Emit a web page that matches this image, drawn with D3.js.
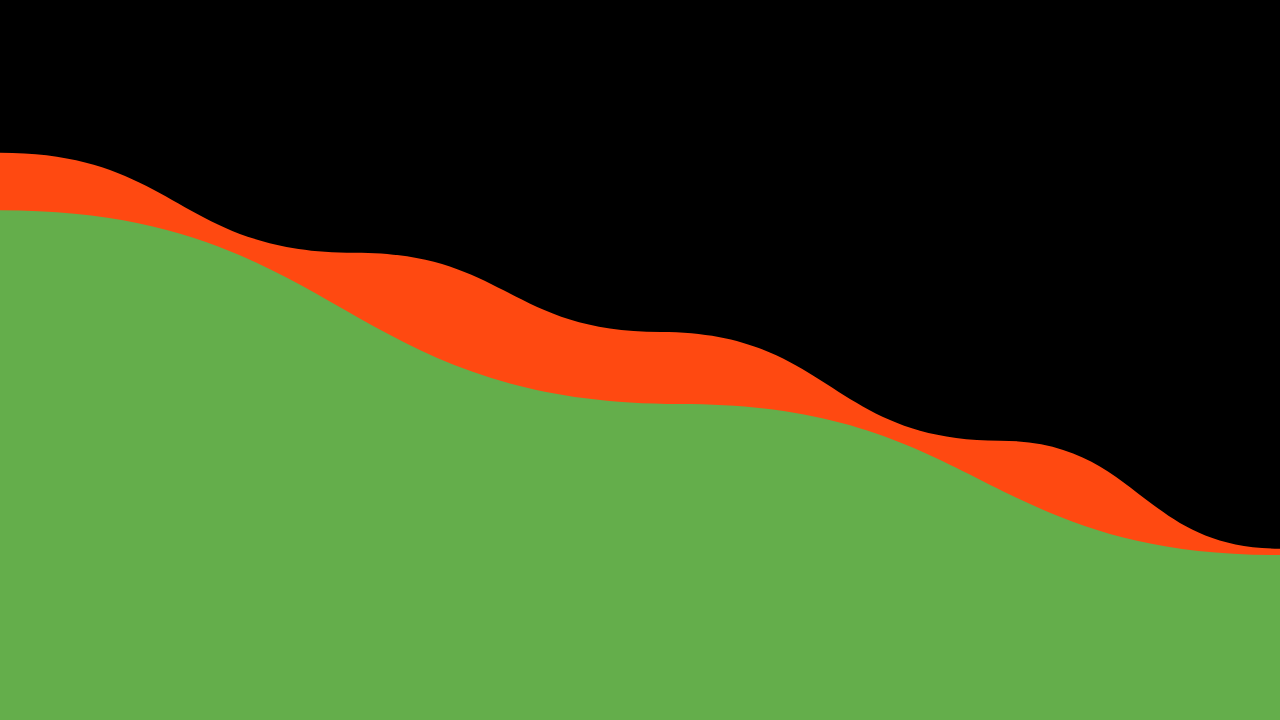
<!DOCTYPE html>
<html>
<head>
<meta charset="utf-8">
<script src="https://cdn.jsdelivr.net/npm/d3@7"></script>
<style>
  html, body { margin: 0; padding: 0; background: #000; }
  svg { display: block; }
</style>
</head>
<body>
<div id="chart"></div>
<script>
// series, x in 0..100, y in 0..100
var orangeX = [0, 27.7, 51.6, 78.1, 100];
var orangeY = [78.8, 64.9, 53.9, 38.8, 23.8];
var greenX = [0, 53.1, 100];
var greenY = [70.8, 43.9, 22.9];

var width = 1280,
    height = 720;

var svg = d3.select('#chart').append('svg')
    .attr('width', width)
    .attr('height', height)
    .style('background', '#000');

var x = d3.scaleLinear().domain([0, 100]).range([0, width]),
    y = d3.scaleLinear().domain([0, 100]).range([height, 0]);

var area = d3.area()
    .curve(d3.curveBumpX)
    .x(function(d) { return x(d[0]); })
    .y0(y(0))
    .y1(function(d) { return y(d[1]); });

var orange = d3.zip(orangeX, orangeY),
    green = d3.zip(greenX, greenY);

svg.append('path')
    .attr('d', area(orange))
    .attr('fill', '#ff4911');

svg.append('path')
    .attr('d', area(green))
    .attr('fill', '#64ae4b');
</script>
</body>
</html>
